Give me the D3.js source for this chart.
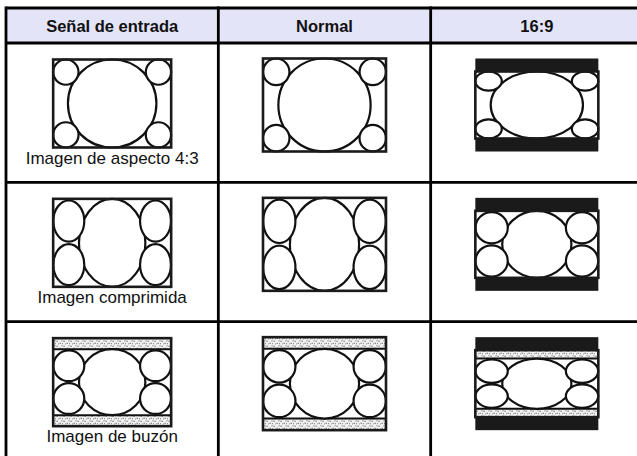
<!DOCTYPE html>
<html>
<head>
    <meta charset="utf-8">
    <title>aspect-table</title>
    <style>
body { margin: 0; background: #fff; }
text { font-family: "Liberation Sans", Arial, sans-serif; fill: #111; }
.head { font-weight: bold; font-size: 16.5px; }
.label { font-size: 17px; }
    </style>
</head>
<body>
<script src="https://cdn.jsdelivr.net/npm/d3@7"></script>
<script>
// table text
var headers = ["Señal de entrada", "Normal", "16:9"];
var signals = ["Imagen de aspecto 4:3", "Imagen comprimida", "Imagen de buzón"];
var signalKeys = ["4:3", "squeeze", "letterbox"];

// native units of each picture (width, height)
var domains = { "4:3": [4, 3], "squeeze": [16, 9], "letterbox": [16, 12] };

// circles as [cx, cy, r] in native units
var circles43 = [[2, 1.5, 1.5], [0.43, 0.43, 0.43], [0.43, 2.57, 0.43], [3.57, 0.43, 0.43], [3.57, 2.57, 0.43]];
var circlesWide = [[8, 4.5, 4.5], [2.12, 2.27, 2.1], [2.12, 6.73, 2.1], [13.88, 2.27, 2.1], [13.88, 6.73, 2.1]];
var boxBands = [[0, 1.5], [10.5, 12]]; // letterbox dotted bands (y ranges)
var boxOffset = 1.5;

var W = 637, H = 456;
var colEdges = [6, 643];
var rowTop = 8, headH = 35, rowBottom = 461;

var svg = d3.select("body").append("svg")
    .attr("width", W)
    .attr("height", H);

var defs = svg.append("defs");
var pat = defs.append("pattern")
    .attr("id", "dots")
    .attr("patternUnits", "userSpaceOnUse")
    .attr("width", 7).attr("height", 5);
pat.append("rect").attr("width", 7).attr("height", 5).attr("fill", "#f2f2f2");
[[0.5, 0.8, 1.2, 0.8], [3.5, 2.8, 1.4, 0.7], [5.6, 0.4, 0.8, 0.9], [2.2, 3.6, 0.7, 0.7], [6, 3.2, 0.6, 1]].forEach(function (d) {
    pat.append("rect").attr("x", d[0]).attr("y", d[1]).attr("width", d[2]).attr("height", d[3]).attr("fill", "#222");
});

var x = d3.scaleBand().domain(headers).range(colEdges);
var y = d3.scaleBand().domain(signals).range([rowTop + headH, rowBottom]);

// header band
svg.append("rect")
    .attr("x", colEdges[0]).attr("y", rowTop)
    .attr("width", colEdges[1] - colEdges[0]).attr("height", headH)
    .attr("fill", "#e4e4f8");

svg.selectAll(".head").data(headers).enter().append("text")
    .attr("class", "head")
    .attr("x", function (d) { return x(d) + x.bandwidth() / 2; })
    .attr("y", rowTop + headH / 2 + 6)
    .attr("text-anchor", "middle")
    .text(function (d) { return d; });

// draw one picture of a signal into a box
function drawPicture(g, key, x0, y0, w, h) {
    var dom = domains[key];
    var px = d3.scaleLinear().domain([0, dom[0]]).range([x0, x0 + w]);
    var py = d3.scaleLinear().domain([0, dom[1]]).range([y0, y0 + h]);
    var circ = key === "4:3" ? circles43 : circlesWide;
    var off = key === "letterbox" ? boxOffset : 0;

    g.append("rect").attr("x", x0).attr("y", y0).attr("width", w).attr("height", h).attr("fill", "#fff");

    if (key === "letterbox") {
        boxBands.forEach(function (b) {
            g.append("rect")
                .attr("x", px(0)).attr("y", py(b[0]))
                .attr("width", px(dom[0]) - px(0)).attr("height", py(b[1]) - py(b[0]))
                .attr("fill", "url(#dots)");
        });
        [boxOffset, dom[1] - boxOffset].forEach(function (v) {
            g.append("line")
                .attr("x1", px(0)).attr("x2", px(dom[0]))
                .attr("y1", py(v)).attr("y2", py(v))
                .attr("stroke", "#111").attr("stroke-width", 2);
        });
    }

    g.selectAll(null).data(circ).enter().append("ellipse")
        .attr("cx", function (c) { return px(c[0]); })
        .attr("cy", function (c) { return py(c[1] + off); })
        .attr("rx", function (c) { return px(c[2]) - px(0); })
        .attr("ry", function (c) { return py(c[2]) - py(0); })
        .attr("fill", "#fff")
        .attr("stroke", "#111")
        .attr("stroke-width", 2.2);

    g.append("rect").attr("x", x0).attr("y", y0).attr("width", w).attr("height", h)
        .attr("fill", "none").attr("stroke", "#1a1a1a").attr("stroke-width", 2.6);
}

signals.forEach(function (s, i) {
    var key = signalKeys[i];
    var top = y(s);
    var g = svg.append("g");

    // input signal column
    var c0 = x(headers[0]) + x.bandwidth() / 2;
    drawPicture(g, key, c0 - 59, top + 16.5, 118, 88);
    g.append("text")
        .attr("class", "label")
        .attr("x", c0)
        .attr("y", top + 16.5 + 88 + 16)
        .attr("text-anchor", "middle")
        .text(s);

    // normal column
    var c1 = x(headers[1]) + x.bandwidth() / 2;
    drawPicture(g, key, c1 - 61.5, top + 15.5, 123, 93);

    // 16:9 column: black bars, picture squeezed vertically
    var c2 = x(headers[2]) + x.bandwidth() / 2;
    var fw = 123, fh = 93, bar = 13;
    g.append("rect")
        .attr("x", c2 - fw / 2).attr("y", top + 15.5)
        .attr("width", fw).attr("height", fh)
        .attr("fill", "#1a1a1a");
    drawPicture(g, key, c2 - fw / 2, top + 15.5 + bar, fw, fh - 2 * bar);
});

// grid lines
var grid = svg.append("g").attr("stroke", "#000").attr("stroke-width", 2.8);
[rowTop, rowTop + headH].concat(signals.slice(1).map(function (s) { return y(s); })).forEach(function (v) {
    grid.append("line").attr("x1", colEdges[0]).attr("x2", colEdges[1]).attr("y1", v).attr("y2", v);
});
headers.forEach(function (h) {
    grid.append("line").attr("x1", x(h)).attr("x2", x(h)).attr("y1", rowTop - 1.4).attr("y2", rowBottom);
});
</script>
</body>
</html>
